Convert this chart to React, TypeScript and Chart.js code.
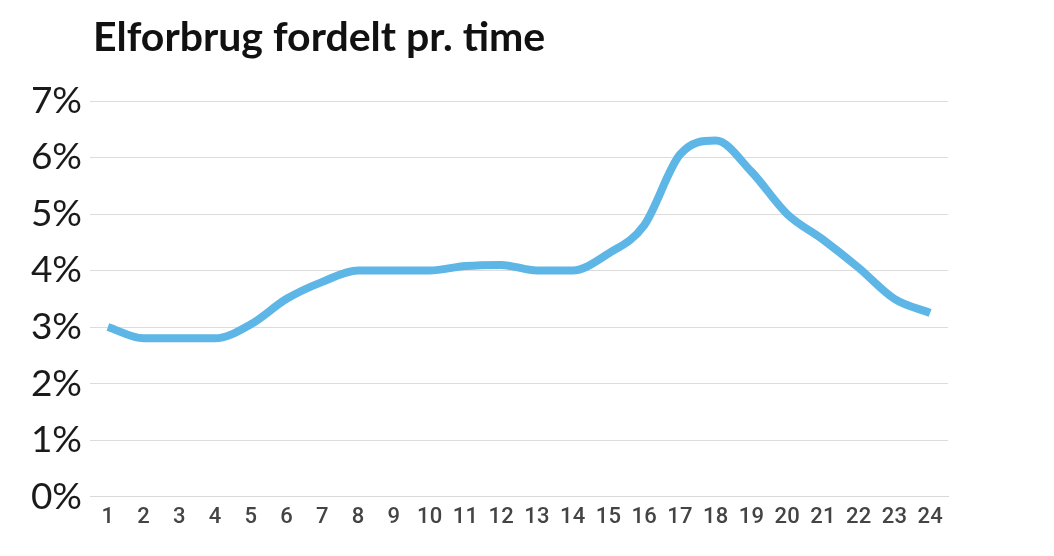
import React, { useEffect, useRef } from "react";
import { Chart, registerables } from "chart.js";

Chart.register(...registerables);

const hours: string[] = ["1","2","3","4","5","6","7","8","9","10","11","12","13","14","15","16","17","18","19","20","21","22","23","24"];
const share: number[] = [3.0, 2.8, 2.8, 2.8, 3.05, 3.5, 3.8, 4.0, 4.0, 4.0, 4.08, 4.1, 4.0, 4.0, 4.3, 4.8, 6.05, 6.3, 5.75, 5.0, 4.55, 4.05, 3.5, 3.25];
const titleText = "Elforbrug fordelt pr. time";

const titlePlugin = {
  id: "leftTitle",
  afterDraw(chart: any) {
    const ctx = chart.ctx;
    ctx.save();
    ctx.font = "bold 41px Lato";
    ctx.fillStyle = "#111";
    ctx.textAlign = "left";
    ctx.textBaseline = "alphabetic";
    ctx.fillText(titleText, 93, 51);
    ctx.restore();
  },
};

export default function App() {
  const ref = useRef<HTMLCanvasElement | null>(null);
  useEffect(() => {
    if (!ref.current) return;
    const chart = new Chart(ref.current, {
      type: "line",
      data: {
        labels: hours,
        datasets: [
          {
            data: share,
            borderColor: "#5DB6E6",
            borderWidth: 8,
            pointRadius: 0,
            cubicInterpolationMode: "monotone",
            fill: false,
          },
        ],
      },
      plugins: [titlePlugin],
      options: {
        animation: false,
        responsive: true,
        maintainAspectRatio: false,
        layout: { padding: { left: 0, right: 106, top: 101, bottom: 17 } },
        plugins: {
          legend: { display: false },
          tooltip: { enabled: false },
          title: { display: false },
        },
        scales: {
          x: {
            offset: true,
            grid: { display: false, drawTicks: false },
            border: { display: true, color: "#d9d9d9", width: 1 },
            ticks: {
              color: "#444444",
              font: { family: "Roboto", size: 22, weight: "500" },
              padding: 8,
              maxRotation: 0,
              autoSkip: false,
            },
          },
          y: {
            min: 0,
            max: 7,
            afterFit: (s: any) => { s.width = 90; },
            grid: { color: "#dcdcdc", lineWidth: 1, drawTicks: false },
            border: { display: false },
            ticks: {
              stepSize: 1,
              color: "#1a1a1a",
              font: { family: "Lato", size: 37 },
              padding: 8,
              callback: (v: any) => v + "%",
            },
          },
        },
      },
    });
    return () => chart.destroy();
  }, []);
  return (
    <div style={{ position: "fixed", left: 0, top: 0, width: 1054, height: 556, background: "#fff" }}>
      <canvas ref={ref} />
    </div>
  );
}
